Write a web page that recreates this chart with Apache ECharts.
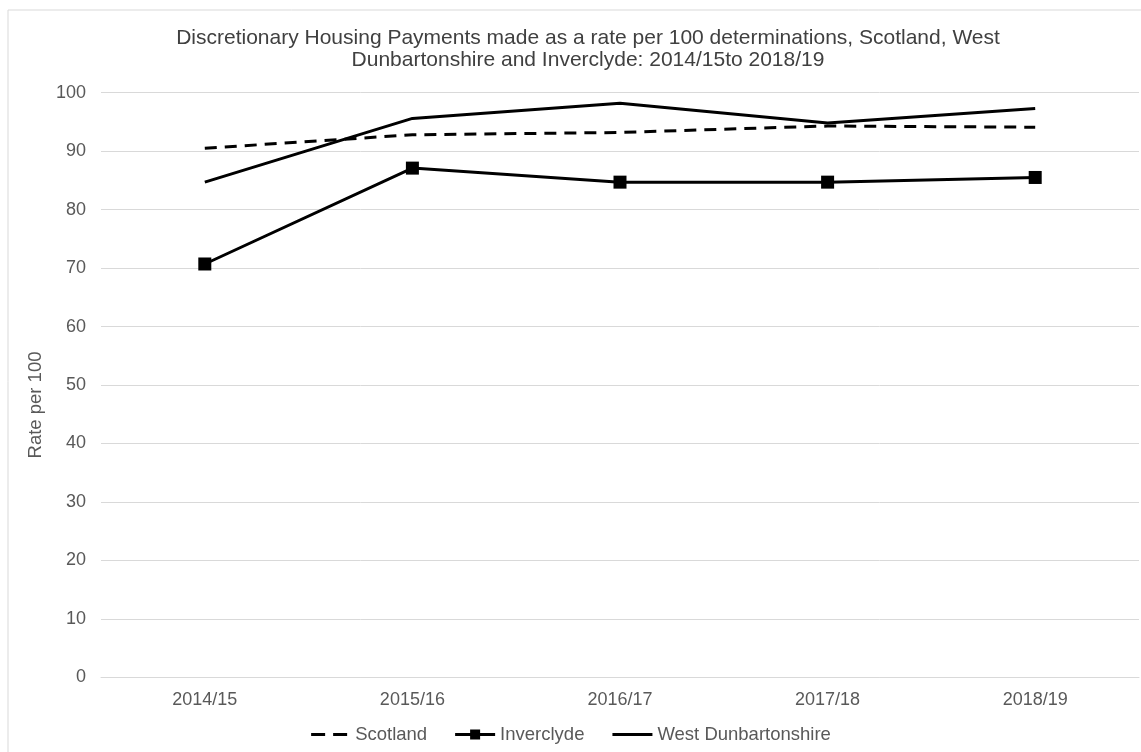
<!DOCTYPE html>
<html>
<head>
<meta charset="utf-8">
<script src="https://cdn.jsdelivr.net/npm/echarts@6/dist/echarts.min.js"></script>
<style>
html,body{margin:0;padding:0;background:#fff;}
#chart{width:1141px;height:752px;}
</style>
</head>
<body>
<div id="chart"></div>
<script>
const categories = ['2014/15', '2015/16', '2016/17', '2017/18', '2018/19'];
const scotland = [90.5, 92.8, 93.2, 94.3, 94.1];
const inverclyde = [70.7, 87.1, 84.7, 84.7, 85.5];
const westDunbartonshire = [84.7, 95.6, 98.2, 94.8, 97.3];
const seriesNames = ['Scotland', 'Inverclyde', 'West Dunbartonshire'];
const titleText = 'Discretionary Housing Payments made as a rate per 100 determinations, Scotland, West\nDunbartonshire and Inverclyde: 2014/15to 2018/19';
const yAxisName = 'Rate per 100';

const FONT = '"Liberation Sans", Arial, sans-serif';
// legend icons drawn in a 40x12 box (tiny corner dots fix the box bounds)
const CORNERS = 'M0,0h0.01v0.01h-0.01z M39.99,11.99h0.01v0.01h-0.01z ';
const iconDash = 'path://' + CORNERS + 'M1,4.5h14v3h-14z M23,4.5h14v3h-14z';
const iconSquare = 'path://' + CORNERS + 'M0,4.5h40v3h-40z M15,1h10v10h-10z';
const iconLine = 'path://' + CORNERS + 'M0,4.5h40v3h-40z';

const chart = echarts.init(document.getElementById('chart'));
chart.setOption({
  backgroundColor: '#ffffff',
  animation: false,
  graphic: [{
    type: 'rect',
    shape: { x: 8, y: 10, width: 1200, height: 800 },
    style: { fill: 'none', stroke: '#d9d9d9', lineWidth: 1 },
    silent: true, z: -1
  }],
  title: {
    text: titleText,
    left: 583, top: 22, textAlign: 'center',
    textStyle: { fontFamily: FONT, fontSize: 21, fontWeight: 'normal', color: '#404040', lineHeight: 22 }
  },
  grid: { left: 101, right: 2, top: 92.7, bottom: 74.7, containLabel: false },
  legend: {
    bottom: 3, left: 'center',
    itemWidth: 40, itemHeight: 12, itemGap: 28,
    textStyle: { fontFamily: FONT, fontSize: 18.5, color: '#595959' },
    data: [
      { name: seriesNames[0], icon: iconDash },
      { name: seriesNames[1], icon: iconSquare },
      { name: seriesNames[2], icon: iconLine }
    ]
  },
  xAxis: {
    type: 'category', data: categories, boundaryGap: true,
    axisLine: { show: true, lineStyle: { color: '#d9d9d9', width: 1 } },
    axisTick: { show: false },
    axisLabel: { fontFamily: FONT, fontSize: 18, color: '#595959', margin: 14 }
  },
  yAxis: {
    type: 'value', min: 0, max: 100, interval: 10,
    name: yAxisName, nameLocation: 'middle', nameGap: 50,
    nameTextStyle: { fontFamily: FONT, fontSize: 18.5, color: '#595959', padding: [0, 40, 0, 0] },
    axisLine: { show: false }, axisTick: { show: false },
    axisLabel: { fontFamily: FONT, fontSize: 18, color: '#595959', margin: 15 },
    splitLine: { lineStyle: { color: '#d9d9d9', width: 1 } }
  },
  series: [
    {
      name: seriesNames[0], type: 'line', data: scotland,
      symbol: 'none',
      lineStyle: { color: '#000', width: 3, type: [12, 8] },
      itemStyle: { color: '#000' }
    },
    {
      name: seriesNames[1], type: 'line', data: inverclyde,
      symbol: 'rect', symbolSize: 13,
      lineStyle: { color: '#000', width: 3 },
      itemStyle: { color: '#000' }
    },
    {
      name: seriesNames[2], type: 'line', data: westDunbartonshire,
      symbol: 'none',
      lineStyle: { color: '#000', width: 3 },
      itemStyle: { color: '#000' }
    }
  ]
});
</script>
</body>
</html>
